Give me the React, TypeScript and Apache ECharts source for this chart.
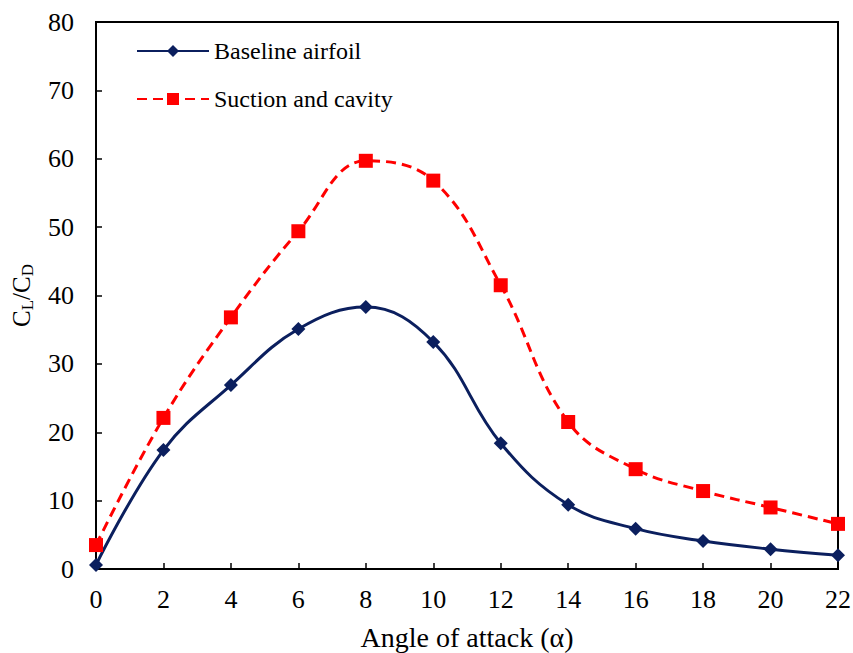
import React, { useEffect, useRef } from "react";
import * as echarts from "echarts";

const angles = [0, 2, 4, 6, 8, 10, 12, 14, 16, 18, 20, 22];
const baselineAirfoil = [0.6, 17.4, 26.9, 35.1, 38.3, 33.2, 18.4, 9.4, 5.9, 4.1, 2.9, 2.0];
const suctionAndCavity = [3.5, 22.1, 36.8, 49.4, 59.7, 56.8, 41.5, 21.5, 14.6, 11.4, 9.0, 6.6];

const FONT = "'Liberation Serif', 'Times New Roman', serif";

export default function App() {
  const ref = useRef<HTMLDivElement>(null);

  useEffect(() => {
    if (!ref.current) return;
    const chart = echarts.init(ref.current, undefined, { renderer: "svg" });
    const pair = (ys: number[]) => angles.map((a, i) => [a, ys[i]]);

    chart.setOption({
      animation: false,
      grid: {
        left: 96,
        right: 15,
        top: 22,
        bottom: 84,
        show: true,
        borderColor: "#000",
        borderWidth: 2,
        containLabel: false,
        outerBoundsMode: "none",
      },
      legend: {
        orient: "vertical",
        left: 131,
        top: 34,
        itemWidth: 72,
        itemHeight: 15,
        itemGap: 24,
        textStyle: { fontFamily: FONT, fontSize: 24, color: "#000" },
        data: ["Baseline airfoil", "Suction and cavity"],
      },
      xAxis: {
        type: "value",
        min: 0,
        max: 22,
        interval: 2,
        name: "Angle of attack (α)",
        nameLocation: "middle",
        nameGap: 54,
        nameTextStyle: { fontFamily: FONT, fontSize: 28, color: "#000" },
        axisLine: { lineStyle: { color: "#000", width: 2 } },
        axisTick: { inside: true, length: 6, lineStyle: { color: "#000", width: 1.5 } },
        axisLabel: { fontFamily: FONT, fontSize: 26, color: "#000", margin: 17 },
        splitLine: { show: false },
      },
      yAxis: {
        type: "value",
        min: 0,
        max: 80,
        interval: 10,
        name: "C{sub|L}/C{sub|D}",
        nameLocation: "middle",
        nameGap: 60,
        nameTextStyle: {
          fontFamily: FONT,
          fontSize: 25,
          color: "#000",
          rich: {
            sub: { fontFamily: FONT, fontSize: 17, color: "#000", padding: [12, 0, 0, 0] },
          },
        },
        axisLine: { show: true, lineStyle: { color: "#000", width: 2 } },
        axisTick: { show: true, inside: true, length: 6, lineStyle: { color: "#000", width: 1.5 } },
        axisLabel: { fontFamily: FONT, fontSize: 26, color: "#000", margin: 22 },
        splitLine: { show: false },
      },
      series: [
        {
          name: "Baseline airfoil",
          type: "line",
          data: pair(baselineAirfoil),
          smooth: 0.4,
          symbol: "diamond",
          symbolSize: 14,
          lineStyle: { color: "#0B1F5E", width: 3 },
          itemStyle: { color: "#0B1F5E" },
        },
        {
          name: "Suction and cavity",
          type: "line",
          data: pair(suctionAndCavity),
          smooth: 0.4,
          symbol: "rect",
          symbolSize: 14,
          lineStyle: { color: "#FF0000", width: 3, type: [10, 6] },
          itemStyle: { color: "#FF0000" },
        },
      ],
    });

    return () => chart.dispose();
  }, []);

  return (
    <div
      ref={ref}
      style={{ position: "absolute", left: 0, top: 0, width: 853, height: 653 }}
    />
  );
}
